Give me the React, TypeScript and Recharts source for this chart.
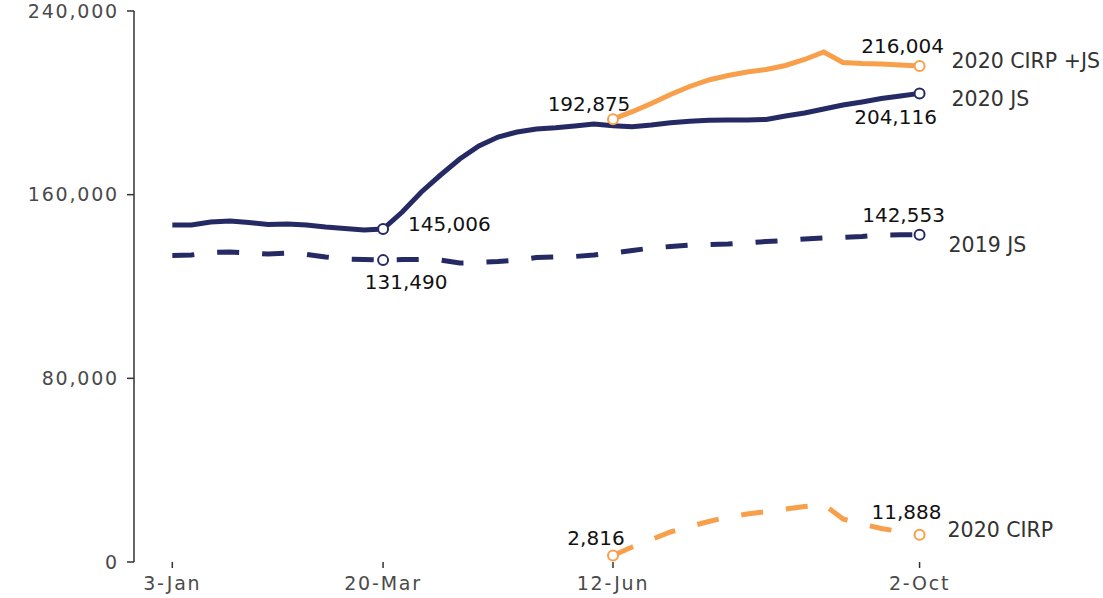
import React from 'react';
import { LineChart, Line, XAxis, YAxis } from 'recharts';

// Weekly observations, week 0 = 3-Jan ... week 39 = 2-Oct
const tickWeeks = [0, 11, 23, 39];
const tickLabels = ['3-Jan', '20-Mar', '12-Jun', '2-Oct'];
const yTicks = [0, 80000, 160000, 240000];

const js2020 = [
  146800, 146800, 148100, 148500, 147900, 147000, 147200, 146800, 145900, 145300,
  144600, 145006, 152450, 161160, 168560, 175530, 181190, 185110, 187290, 188600,
  189160, 189910, 190780, 190059, 189610, 190340, 191350, 191950, 192390, 192520,
  192520, 192740, 194260, 195570, 197320, 199060, 200390, 201890, 202980, 204116,
];
const js2019 = [
  133530, 133720, 134800, 135030, 134590, 134160, 134590, 133940, 132850, 131980,
  131760, 131490, 131760, 131760, 131540, 130240, 130460, 130890, 131540, 132630,
  132850, 133070, 133720, 134590, 135680, 136770, 137420, 138080, 138290, 138510,
  138950, 139600, 140040, 140690, 141130, 141350, 141780, 142430, 142500, 142553,
];
const cirp2020 = [
  null, null, null, null, null, null, null, null, null, null,
  null, null, null, null, null, null, null, null, null, null,
  null, null, null, 2816, 6530, 9800, 13070, 15460, 17640, 19600,
  20910, 22000, 23090, 24170, 25050, 18730, 16550, 14590, 13280, 11888,
];
const cirpJs2020 = [
  null, null, null, null, null, null, null, null, null, null,
  null, null, null, null, null, null, null, null, null, null,
  null, null, null, 192875, 196140, 199710, 203630, 207120, 209950, 211900,
  213430, 214520, 216260, 218880, 222140, 217570, 217130, 216910, 216480, 216004,
];

const seriesNames = ['2020 JS', '2019 JS', '2020 CIRP +JS', '2020 CIRP'];

const data = js2020.map((v, i) => ({
  week: i,
  js2020: v,
  js2019: js2019[i],
  cirp2020: cirp2020[i],
  cirpJs2020: cirpJs2020[i],
}));

const NAVY = '#262a64';
const ORANGE = '#f89f4b';
const FONT = '"DejaVu Sans", sans-serif';

type Ann = { week: number; dx: number; dy: number; anchor: 'start' | 'middle' | 'end' };

const fmt = (v: number) => Number(v).toLocaleString('en-US');

const makeDot = (color: string, weeks: number[]) => (p: any) => {
  if (!weeks.includes(p.index) || p.cy == null || p.cx == null) return <g key={`d${p.index}`} />;
  return (
    <circle key={`d${p.index}`} cx={p.cx} cy={p.cy} r={5} fill="#fff" stroke={color} strokeWidth={2} />
  );
};

const makeLabel = (anns: Ann[], name: string, nameDx: number, nameDy: number) => (p: any) => {
  const a = anns.find((q) => q.week === p.index);
  if (!a || p.value == null) return <g key={`l${p.index}`} />;
  return (
    <g key={`l${p.index}`}>
      <text
        x={p.x + a.dx}
        y={p.y + a.dy}
        textAnchor={a.anchor}
        dominantBaseline="central"
        fontFamily={FONT}
        fontSize={20}
        fill="#111"
      >
        {fmt(p.value)}
      </text>
      {p.index === 39 && (
        <text
          x={p.x + nameDx}
          y={p.y + nameDy}
          textAnchor="start"
          dominantBaseline="central"
          fontFamily={FONT}
          fontSize={20.5}
          fill="#333"
        >
          {name}
        </text>
      )}
    </g>
  );
};

export default function App() {
  return (
    <div style={{ position: 'absolute', left: 0, top: 0, background: '#fff' }}>
      <LineChart width={1103} height={598} data={data} margin={{ top: 11, right: 11, bottom: 0, left: 0 }}>
        <XAxis
          dataKey="week"
          type="number"
          domain={[-2, 48]}
          ticks={tickWeeks}
          tickFormatter={(w: number) => tickLabels[tickWeeks.indexOf(w)]}
          axisLine={false}
          tickLine={{ stroke: '#333', strokeWidth: 1.5 }}
          tickSize={6}
          tickMargin={9}
          height={36}
          tick={{ fontFamily: FONT, fontSize: 19, fill: '#4a4a4a', letterSpacing: 1.8 }}
          allowDataOverflow
        />
        <YAxis
          type="number"
          domain={[0, 240000]}
          ticks={yTicks}
          tickFormatter={fmt}
          axisLine={{ stroke: '#333', strokeWidth: 1.5 }}
          tickLine={{ stroke: '#333', strokeWidth: 1.5 }}
          tickSize={7}
          tickMargin={8}
          width={134}
          tick={{ fontFamily: FONT, fontSize: 19, fill: '#4a4a4a', letterSpacing: 1.8 }}
        />
        <Line
          dataKey="js2019"
          type="linear"
          stroke={NAVY}
          strokeWidth={5}
          strokeDasharray="22 23"
          dot={makeDot(NAVY, [11, 39])}
          activeDot={false}
          isAnimationActive={false}
          label={makeLabel(
            [
              { week: 11, dx: 23, dy: 22, anchor: 'middle' },
              { week: 39, dx: -16, dy: -20, anchor: 'middle' },
            ],
            seriesNames[1], 29, 10,
          )}
        />
        <Line
          dataKey="js2020"
          type="linear"
          stroke={NAVY}
          strokeWidth={5}
          dot={makeDot(NAVY, [11, 39])}
          activeDot={false}
          isAnimationActive={false}
          label={makeLabel(
            [
              { week: 11, dx: 25, dy: -5, anchor: 'start' },
              { week: 39, dx: -24, dy: 24, anchor: 'middle' },
            ],
            seriesNames[0], 32, 6,
          )}
        />
        <Line
          dataKey="cirp2020"
          type="linear"
          stroke={ORANGE}
          strokeWidth={5}
          strokeDasharray="22 23"
          dot={makeDot(ORANGE, [23, 39])}
          activeDot={false}
          isAnimationActive={false}
          label={makeLabel(
            [
              { week: 23, dx: -17, dy: -18, anchor: 'middle' },
              { week: 39, dx: -13, dy: -23, anchor: 'middle' },
            ],
            seriesNames[3], 28, -5,
          )}
        />
        <Line
          dataKey="cirpJs2020"
          type="linear"
          stroke={ORANGE}
          strokeWidth={5}
          dot={makeDot(ORANGE, [23, 39])}
          activeDot={false}
          isAnimationActive={false}
          label={makeLabel(
            [
              { week: 23, dx: -24, dy: -15, anchor: 'middle' },
              { week: 39, dx: -17, dy: -20, anchor: 'middle' },
            ],
            seriesNames[2], 32, -5,
          )}
        />
      </LineChart>
    </div>
  );
}
